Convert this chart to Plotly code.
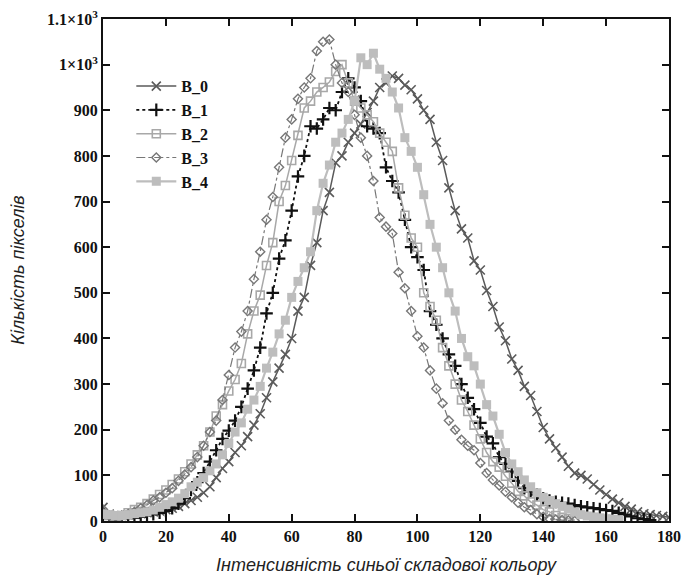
import plotly.graph_objects as go

x_vals = list(range(0, 181, 2))

b0 = [30, 15, 10, 12, 14, 15, 16, 18, 20, 22, 25, 28, 32, 38, 45, 52, 62, 75, 95, 115,
      130, 150, 165, 185, 210, 235, 270, 305, 335, 365, 400, 460, 490, 560, 610, 680, 720, 785, 800, 830,
      850, 870, 895, 920, 950, 960, 975, 970, 955, 945, 925, 900, 880, 830, 790, 730, 680, 640, 620, 570,
      550, 505, 470, 425, 395, 355, 330, 295, 275, 240, 205, 180, 160, 140, 120, 105, 100, 92, 80, 68,
      58, 48, 40, 32, 26, 20, 16, 14, 12, 10, 8]
b1 = [8, 6, 5, 5, 6, 7, 9, 12, 15, 18, 22, 28, 38, 50, 68, 85, 105, 130, 155, 180,
      198, 220, 250, 290, 330, 380, 455, 500, 575, 615, 680, 755, 800, 865, 860, 880, 905, 900, 940, 970,
      950, 920, 865, 860, 850, 775, 745, 720, 660, 600, 578, 550, 460, 430, 400, 365, 340, 300, 270, 245,
      215, 185, 170, 140, 125, 108, 88, 72, 65, 58, 50, 45, 42, 40, 38, 35, 32, 30, 28, 26,
      24, 22, 18, 14, 10, 6, 4, 2]
b2 = [15, 12, 10, 12, 18, 25, 30, 38, 48, 58, 68, 80, 92, 108, 125, 145, 165, 195, 230, 255,
      285, 310, 345, 410, 460, 495, 560, 610, 700, 735, 790, 845, 905, 920, 940, 950, 962, 985, 1000, 960,
      920, 905, 890, 875, 850, 830, 810, 730, 670, 620, 600, 500, 470, 440, 380, 340, 300, 265, 240, 210,
      180, 150, 130, 118, 98, 83, 65, 55, 42, 35, 25, 20, 12, 8, 5, 3]
b3 = [25, 12, 10, 12, 15, 20, 28, 35, 45, 52, 62, 72, 88, 102, 118, 140, 165, 195, 220, 265,
      320, 380, 415, 460, 530, 590, 660, 710, 775, 840, 880, 925, 950, 970, 1030, 1050, 1055, 1000, 960, 940,
      890, 840, 800, 745, 665, 645, 630, 545, 510, 460, 405, 380, 330, 290, 258, 220, 200, 178, 165, 155,
      127, 105, 90, 78, 64, 52, 40, 30, 24, 15, 9, 5, 3, 2, 1, 0]
b4 = [15, 14, 12, 12, 14, 16, 18, 20, 24, 30, 36, 42, 50, 60, 75, 85, 95, 110, 125, 145,
      170, 195, 215, 245, 265, 295, 335, 370, 410, 440, 490, 525, 555, 590, 680, 740, 780, 830, 850, 880,
      920, 1015, 1000, 1025, 990, 970, 940, 905, 840, 810, 775, 715, 650, 600, 555, 500, 460, 400, 360, 340,
      300, 255, 230, 190, 150, 125, 108, 90, 75, 62, 52, 45, 38, 32, 26, 20, 14, 11, 9, 7,
      5, 4, 3]

series_names = ["B_0", "B_1", "B_2", "B_3", "B_4"]
series_values = [b0, b1, b2, b3, b4]

y_tickvals = [0, 100, 200, 300, 400, 500, 600, 700, 800, 900, 1000, 1100]
y_ticktext = ["0", "100", "200", "300", "400", "500", "600", "700", "800", "900",
              "1×10<sup>3</sup>", "1.1×10<sup>3</sup>"]
x_tickvals = [0, 20, 40, 60, 80, 100, 120, 140, 160, 180]

styles = [
    dict(line=dict(color="#5a5a5a", width=1.5, dash="solid"),
         marker=dict(symbol="x-thin-open", size=9, line=dict(color="#5a5a5a", width=1.6), color="#5a5a5a")),
    dict(line=dict(color="#111111", width=1.8, dash="dot"),
         marker=dict(symbol="cross-thin-open", size=9, line=dict(color="#111111", width=2.2), color="#111111")),
    dict(line=dict(color="#a8a8a8", width=1.5, dash="solid"),
         marker=dict(symbol="square-open", size=8, line=dict(color="#a8a8a8", width=1.6), color="#a8a8a8")),
    dict(line=dict(color="#777777", width=1.2, dash="dashdot"),
         marker=dict(symbol="diamond-open", size=7, line=dict(color="#777777", width=1.4), color="#777777")),
    dict(line=dict(color="#bdbdbd", width=2.2, dash="solid"),
         marker=dict(symbol="square", size=9, color="#bdbdbd", line=dict(width=0))),
]

fig = go.Figure()
for name, vals, st in zip(series_names, series_values, styles):
    fig.add_trace(go.Scatter(x=x_vals[:len(vals)], y=vals, mode="lines+markers", name=name,
                             line=st["line"], marker=st["marker"]))

serif = "Liberation Serif, Times New Roman, serif"
sans = "Liberation Sans, Arial, sans-serif"

fig.update_layout(
    width=688, height=577,
    margin=dict(l=103, r=19, t=19, b=56),
    paper_bgcolor="white", plot_bgcolor="white",
    showlegend=True,
    legend=dict(x=0.05, y=0.9, xanchor="left", yanchor="top",
                bgcolor="rgba(0,0,0,0)", font=dict(family=serif, size=16, color="#111", weight="bold"),
                tracegroupgap=0, itemwidth=40),
)
fig.update_xaxes(range=[0, 180], tickvals=x_tickvals, showline=True, linecolor="#111", linewidth=2,
                 mirror="ticks", ticks="inside", ticklen=7, tickwidth=2, tickcolor="#111",
                 showgrid=False, zeroline=False, automargin=False, ticklabeloverflow="allow",
                 tickfont=dict(family=serif, size=16, color="#111", weight="bold"),
                 title=dict(text="Інтенсивність синьої складової кольору",
                            font=dict(family=sans, size=18, color="#222", style="italic"), standoff=14))
fig.update_yaxes(range=[0, 1100], tickvals=y_tickvals, ticktext=y_ticktext, showline=True,
                 linecolor="#111", linewidth=2, mirror="ticks", ticks="inside", ticklen=7, tickwidth=2,
                 tickcolor="#111", showgrid=False, zeroline=False, automargin=False,
                 ticklabeloverflow="allow",
                 tickfont=dict(family=serif, size=16, color="#111", weight="bold"),
                 title=dict(text="Кількість пікселів",
                            font=dict(family=sans, size=18, color="#222", style="italic"), standoff=18))

fig.write_html("out.html", config={"displayModeBar": False},
               post_script="document.body.style.margin='0';")
